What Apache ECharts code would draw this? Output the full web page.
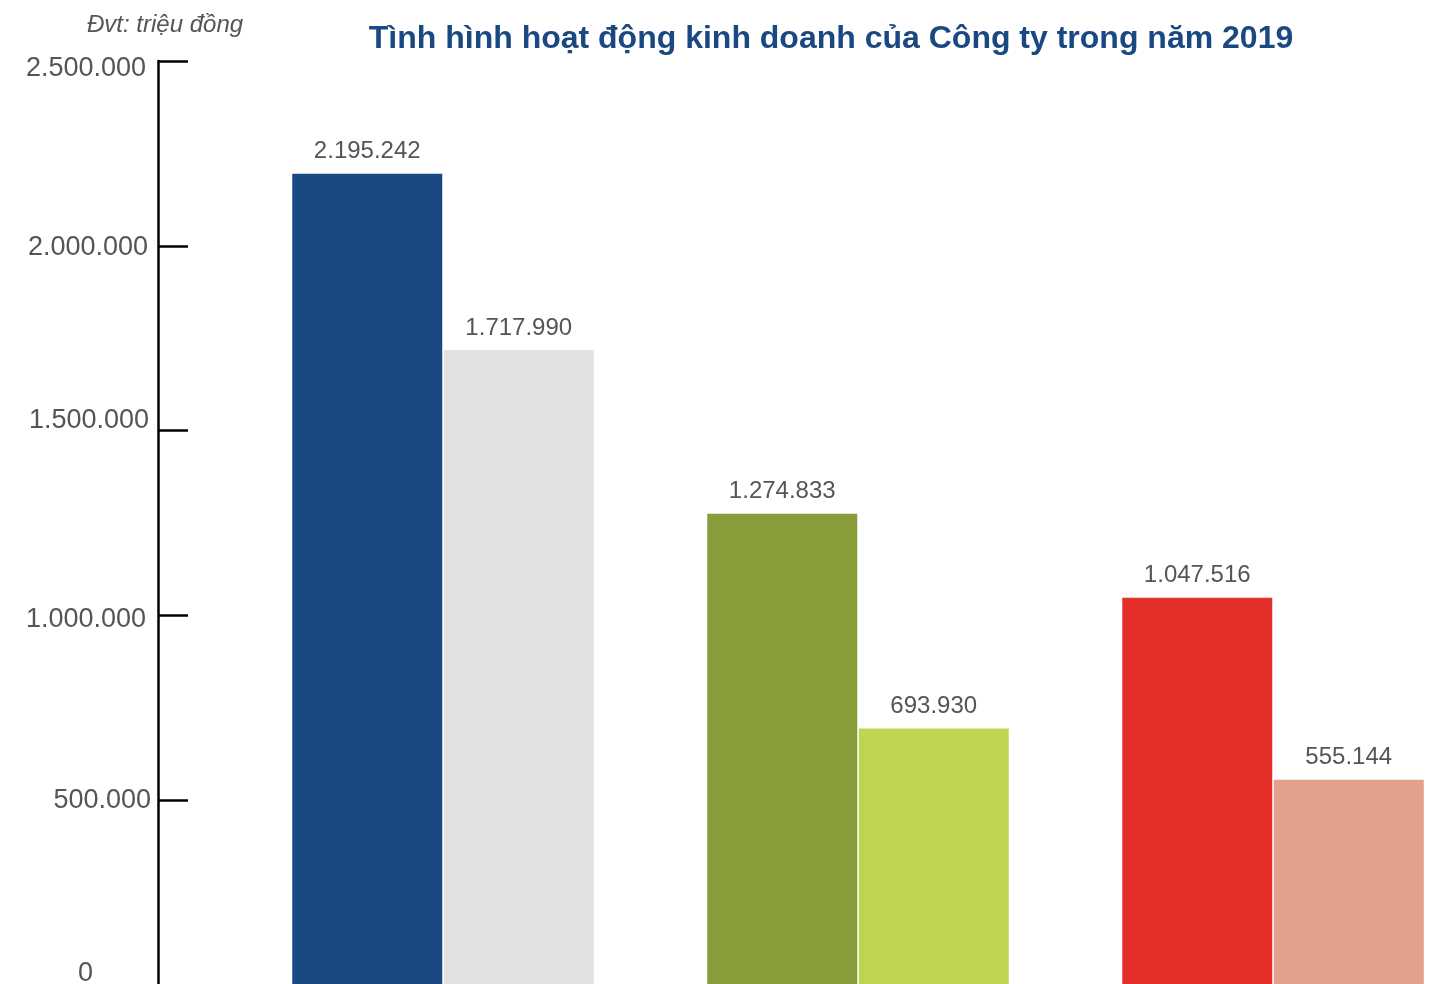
<!DOCTYPE html>
<html>
<head>
<meta charset="utf-8">
<script src="https://cdn.jsdelivr.net/npm/echarts@6/dist/echarts.min.js"></script>
<style>
  html, body { margin: 0; padding: 0; background: #ffffff; }
  #chart { width: 1456px; height: 984px; }
</style>
</head>
<body>
<div id="chart"></div>
<script>
// Revenue groups, each with a 2019 value and a comparison value
const categories = ['Nhóm 1', 'Nhóm 2', 'Nhóm 3'];
const firstValues = [2195242, 1274833, 1047516];
const secondValues = [1717990, 693930, 555144];
const firstColors = ['#1a4882', '#889d39', '#e52f2a'];
const secondColors = ['#e3e2e1', '#bfd552', '#e3a18d'];
const yTicks = [0, 500000, 1000000, 1500000, 2000000, 2500000];

// Hand-placed nudges for the axis labels: [extra right padding, vertical shift]
const tickLabelNudge = [[58, -11], [0, 0], [5, 4], [2, -10], [3, 2], [5, 8]];

const fmt = v => String(Math.round(v)).replace(/\B(?=(\d{3})+(?!\d))/g, '.');

const tickRich = {};
tickLabelNudge.forEach(([padRight, dy], i) => {
  tickRich['t' + i] = {
    color: '#555555',
    fontSize: 27,
    fontFamily: 'Liberation Sans, Arial, sans-serif',
    padding: [dy > 0 ? 2 * dy : 0, padRight, dy < 0 ? -2 * dy : 0, 0]
  };
});

const chart = echarts.init(document.getElementById('chart'), null, { renderer: 'canvas' });

const labelStyle = {
  show: true,
  position: 'top',
  distance: 10,
  color: '#555555',
  fontSize: 24,
  fontFamily: 'Liberation Sans, Arial, sans-serif',
  formatter: p => fmt(p.value)
};

chart.setOption({
  animation: false,
  backgroundColor: '#ffffff',
  title: [{
    text: 'Tình hình hoạt động kinh doanh của Công ty trong năm 2019',
    left: 826,
    top: 18,
    textAlign: 'center',
    textStyle: {
      color: '#1a4882',
      fontSize: 32,
      fontWeight: 'bold',
      fontFamily: 'Liberation Sans, Arial, sans-serif'
    }
  }, {
    text: 'Đvt: triệu đồng',
    left: 82,
    top: 8,
    textStyle: {
      color: '#555555',
      fontSize: 24,
      fontStyle: 'italic',
      fontWeight: 'normal',
      fontFamily: 'Liberation Sans, Arial, sans-serif'
    }
  }],
  grid: { left: 235.5, right: -24.5, top: 61, bottom: -1, containLabel: false, outerBoundsMode: 'none' },
  xAxis: {
    type: 'category',
    data: categories,
    axisLine: { show: false },
    axisTick: { show: false },
    axisLabel: { show: false },
    splitLine: { show: false }
  },
  yAxis: {
    type: 'value',
    min: yTicks[0],
    max: yTicks[yTicks.length - 1],
    interval: yTicks[1] - yTicks[0],
    offset: 77.5,
    axisLine: { show: true, lineStyle: { color: '#000000', width: 2.5 } },
    axisTick: { show: true, inside: true, length: 30, lineStyle: { color: '#000000', width: 2.5 } },
    splitLine: { show: false },
    axisLabel: {
      margin: 7,
      color: '#555555',
      fontSize: 27,
      fontFamily: 'Liberation Sans, Arial, sans-serif',
      formatter: (v, i) => '{t' + yTicks.indexOf(v) + '|' + fmt(v) + '}',
      rich: tickRich
    }
  },
  series: [{
    type: 'bar',
    barWidth: 150,
    barGap: '1%',
    data: firstValues.map((v, i) => ({ value: v, itemStyle: { color: firstColors[i] } })),
    label: labelStyle
  }, {
    type: 'bar',
    barWidth: 150,
    barGap: '1%',
    data: secondValues.map((v, i) => ({ value: v, itemStyle: { color: secondColors[i] } })),
    label: labelStyle
  }]
});
</script>
</body>
</html>
